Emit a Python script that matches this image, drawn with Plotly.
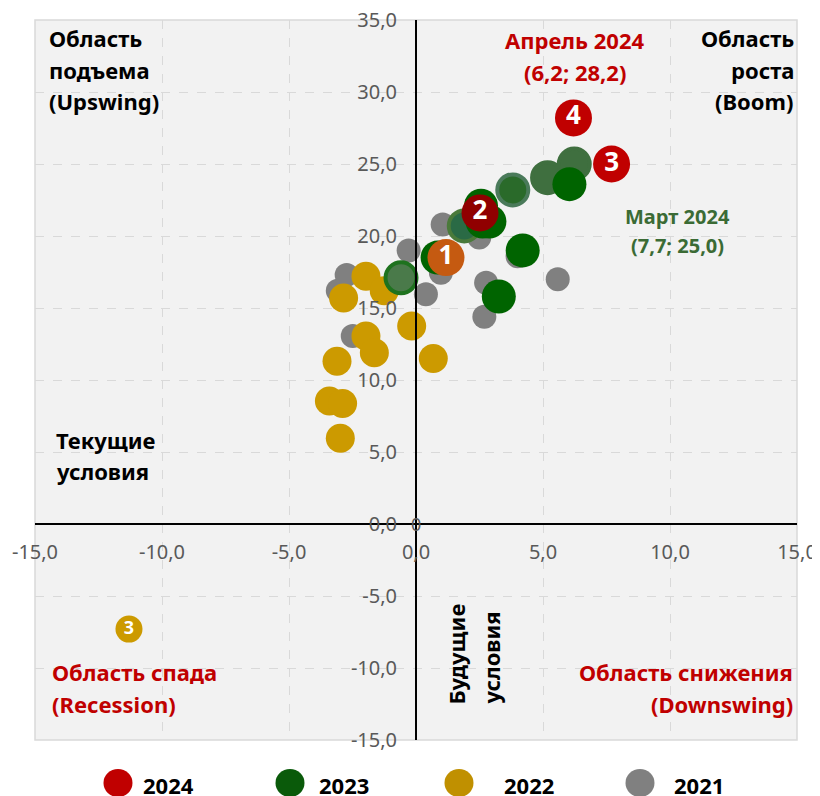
import plotly.graph_objects as go

# ---------------- data ----------------
x_2021 = [1.05, -0.29, -2.73, -3.08, 0.39, 0.98, 2.76, 2.69, 5.58, -2.49, 2.49, 4.0]
y_2021 = [20.8, 19.0, 17.3, 16.2, 15.95, 17.45, 16.76, 14.4, 17.0, 13.05, 19.9, 18.6]

x_2022 = [-1.97, -2.85, -1.25, -0.17, -1.97, -1.64, -3.11, 0.68, -3.41, -2.89, -2.98]
y_2022 = [17.2, 15.7, 16.2, 13.75, 13.05, 11.9, 11.3, 11.5, 8.54, 8.36, 5.95]

x_2023 = [4.2, 3.26, 2.89, 2.62, 2.56, 0.85, 6.04]
y_2023 = [19.0, 15.8, 21.0, 21.0, 22.1, 18.5, 23.6]

x_2023b = [-0.59, 1.9, 3.81, 5.18, 6.23]
y_2023b = [17.1, 20.7, 23.2, 24.05, 25.0]

x_2024 = [1.18, 2.52, 7.7, 6.2]
y_2024 = [18.5, 21.6, 25.0, 28.2]
lbl_2024 = ["1", "2", "3", "4"]

x_note = [-11.3]
y_note = [-7.3]
lbl_note = ["3"]

tick_vals_x = [-15, -10, -5, 0, 5, 10, 15]
tick_text_x = ["-15,0", "-10,0", "-5,0", "0,0", "5,0", "10,0", "15,0"]
tick_vals_y = [-15, -10, -5, 0, 5, 10, 15, 20, 25, 30, 35]
tick_text_y = ["-15,0", "-10,0", "-5,0", "0,0", "5,0", "10,0", "15,0", "20,0", "25,0", "30,0", "35,0"]

legend_years = ["2024", "2023", "2022", "2021"]

# ---------------- styles ----------------
C_2021 = "#808080"
C_2022 = "#cc9a00"
C_2023 = "#006400"
COL_2024 = ["#c55a11", "#900000", "#c00000", "#c00000"]
COL_2023b = ["#4a7a4a", "#2a6a45", "#2a6a2a", "#3f6f3f", "#3f6f3f"]
LINE_2023b = ["#1e721e", "#4a7a3a", "#4a7a5a", "#3f6f3f", "#3f6f3f"]
LEG_COLORS = ["#c00000", "#0a5a0a", "#c09000", "#808080"]
FONT = "Noto Sans, DejaVu Sans, sans-serif"

OFF = 8  # default page body margin
PAGE_W, PAGE_H = 820, 796
PL, PT, PW, PH = 35, 20, 762, 720  # plot area in page pixels
W, H = PAGE_W - OFF, PAGE_H - OFF


def px(x):
    return (x - PL) / PW


def py(y):
    return (PT + PH - y) / PH


fig = go.Figure()

fig.add_trace(go.Scatter(x=x_2021, y=y_2021, mode="markers", name="2021",
                         marker=dict(size=24, color=C_2021, line=dict(width=0))))
fig.add_trace(go.Scatter(x=x_2022, y=y_2022, mode="markers", name="2022",
                         marker=dict(size=29, color=C_2022, line=dict(width=0))))
fig.add_trace(go.Scatter(x=x_2023b, y=y_2023b, mode="markers", name="2023b",
                         marker=dict(size=31, color=COL_2023b,
                                     line=dict(width=4, color=LINE_2023b))))
fig.add_trace(go.Scatter(x=x_2023, y=y_2023, mode="markers", name="2023",
                         marker=dict(size=34, color=C_2023, line=dict(width=0))))
fig.add_trace(go.Scatter(x=x_2024, y=y_2024, mode="markers+text", name="2024",
                         text=lbl_2024, textposition="middle center",
                         textfont=dict(family=FONT, size=26, color="white", weight="bold"),
                         marker=dict(size=37, color=COL_2024, line=dict(width=0))))
fig.add_trace(go.Scatter(x=x_note, y=y_note, mode="markers+text", name="note",
                         text=lbl_note, textposition="middle center",
                         textfont=dict(family=FONT, size=18, color="white", weight="bold"),
                         marker=dict(size=27, color=C_2022, line=dict(width=0))))

annotations = []


def add_text(txt, x, y, xanchor="left", color="black", size=22, bold=True, angle=0, yanchor="middle"):
    annotations.append(dict(
        text=f"<b>{txt}</b>" if bold else txt,
        x=px(x), y=py(y), xref="paper", yref="paper",
        xanchor=xanchor, yanchor=yanchor, showarrow=False, textangle=angle,
        font=dict(family=FONT, size=size, color=color)))


for t, yy in zip(["Область", "подъема", "(Upswing)"], [38, 70, 101]):
    add_text(t, 47, yy)
for t, yy in zip(["Область", "роста", "(Boom)"], [38, 70, 101]):
    add_text(t, 796, yy, xanchor="right")
for t, yy in zip(["Апрель 2024", "(6,2; 28,2)"], [40, 72]):
    add_text(t, 575, yy, xanchor="center", color="#c00000")
for t, yy in zip(["Март 2024", "(7,7; 25,0)"], [216, 245]):
    add_text(t, 677, yy, xanchor="center", color="#3b6b35", size=20)
for t, yy in zip(["Текущие", "условия"], [440, 471]):
    add_text(t, 54, yy)
add_text("Будущие", 455, 707, xanchor="center", angle=-90, yanchor="bottom", size=22)
add_text("условия", 490, 707, xanchor="center", angle=-90, yanchor="bottom", size=22)
for t, yy in zip(["Область спада", "(Recession)"], [672, 704]):
    add_text(t, 50, yy, color="#c00000")
for t, yy in zip(["Область снижения", "(Downswing)"], [672, 704]):
    add_text(t, 795, yy, xanchor="right", color="#c00000")

# small "0" label at the origin
annotations.append(dict(text="0", x=0, y=0, xref="x", yref="y", showarrow=False,
                        font=dict(family=FONT, size=18, color="#595959")))

# legend (manual)
shapes = []
leg_circle_x = [118, 290, 459, 640]
leg_text_x = [141, 317, 502, 672]
for yr, col, cx, tx in zip(legend_years, LEG_COLORS, leg_circle_x, leg_text_x):
    shapes.append(dict(type="circle", xref="paper", yref="paper",
                       x0=px(cx - 14.5), x1=px(cx + 14.5), y0=py(783 + 14), y1=py(783 - 14),
                       fillcolor=col, line=dict(width=0)))
    add_text(yr, tx, 785, xanchor="left", size=22)

# plot border
shapes.append(dict(type="rect", xref="paper", yref="paper", x0=0, x1=1, y0=0, y1=1,
                   line=dict(color="#d9d9d9", width=1.5), layer="below"))

axis_common = dict(
    showgrid=True, gridcolor="#d9d9d9", griddash="dash", gridwidth=1.2,
    zeroline=False, showline=True, linecolor="black", linewidth=2,
    ticks="", tickfont=dict(family=FONT, size=20, color="#595959"),
    fixedrange=True, automargin=False, ticklabeloverflow="allow",
)

fig.update_layout(
    width=W, height=H,
    margin=dict(l=PL - OFF, r=PAGE_W - PL - PW, t=PT - OFF, b=PAGE_H - PT - PH),
    paper_bgcolor="white", plot_bgcolor="#f2f2f2",
    showlegend=False,
    xaxis=dict(range=[-15, 15], tickvals=tick_vals_x, ticktext=tick_text_x,
               anchor="free", position=0.3, domain=[0, 1], ticklabelstandoff=10,
               **axis_common),
    yaxis=dict(range=[-15, 35], tickvals=tick_vals_y, ticktext=tick_text_y,
               anchor="free", position=0.5, domain=[0, 1], ticklabelstandoff=14,
               **axis_common),
    annotations=annotations,
    shapes=shapes,
)

fig.write_html("out.html")
